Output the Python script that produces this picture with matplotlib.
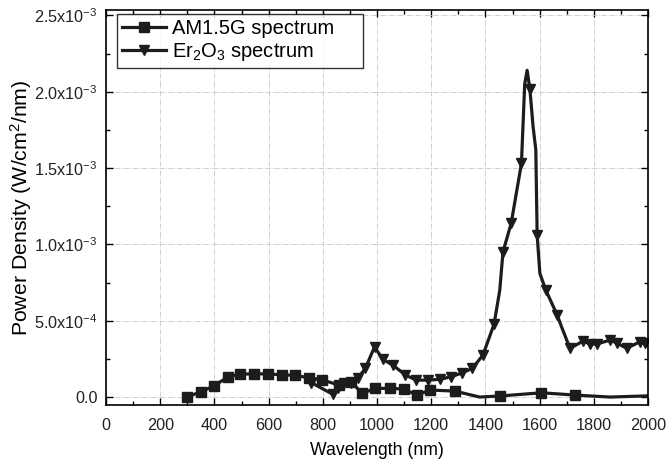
import numpy as np
import matplotlib
matplotlib.use('Agg')
import matplotlib.pyplot as plt
from matplotlib.ticker import MultipleLocator

plt.rcParams['font.family'] = ['Liberation Sans', 'DejaVu Sans']
plt.rcParams['mathtext.fontset'] = 'custom'
plt.rcParams['mathtext.rm'] = 'Liberation Sans'
plt.rcParams['mathtext.it'] = 'Liberation Sans'

# AM1.5G spectrum (W/cm^2/nm)
am_wl = [300, 350, 400, 450, 495, 547, 596, 648, 699, 748, 797, 859, 905, 945,
         994, 1049, 1098, 1147, 1197, 1287, 1379, 1453, 1607, 1730, 1860, 2000]
am_pd = [0.0, 0.35e-4, 0.74e-4, 1.33e-4, 1.49e-4, 1.53e-4, 1.51e-4, 1.46e-4,
         1.42e-4, 1.26e-4, 1.13e-4, 0.79e-4, 1.0e-4, 0.24e-4, 0.57e-4, 0.57e-4,
         0.52e-4, 0.13e-4, 0.46e-4, 0.39e-4, 0.0, 0.07e-4, 0.28e-4, 0.13e-4,
         0.0, 0.08e-4]
am_mark = [1] * 20 + [0, 1, 1, 1, 0, 0]

# Er2O3 emission spectrum
er_wl = [757, 837, 855, 880, 905, 929, 957, 991, 1021, 1058, 1105, 1145, 1188,
         1231, 1274, 1315, 1352, 1391, 1432, 1453, 1465, 1495, 1533, 1545,
         1554, 1564, 1576, 1586, 1591, 1601, 1623, 1665, 1681, 1712, 1761,
         1786, 1810, 1860, 1885, 1921, 1970, 1990, 2000]
er_pd = [0.95e-4, 0.18e-4, 0.57e-4, 0.9e-4, 0.9e-4, 1.22e-4, 1.88e-4, 3.29e-4,
         2.47e-4, 2.1e-4, 1.44e-4, 1.11e-4, 1.11e-4, 1.16e-4, 1.33e-4, 1.59e-4,
         1.88e-4, 2.75e-4, 4.78e-4, 7.0e-4, 9.52e-4, 11.37e-4, 15.3e-4,
         20.5e-4, 21.4e-4, 20.2e-4, 17.7e-4, 16.2e-4, 10.6e-4, 8.1e-4, 7.0e-4,
         5.37e-4, 4.6e-4, 3.19e-4, 3.67e-4, 3.47e-4, 3.47e-4, 3.73e-4,
         3.54e-4, 3.19e-4, 3.62e-4, 3.55e-4, 3.4e-4]
er_mark = [1] * 19 + [0, 1, 1, 1, 0, 0, 1, 0, 0, 1, 0, 1, 1, 0,
           1, 1, 1, 1, 1, 1, 1, 1, 1, 0]

y_ticks = [0.0, 5e-4, 1e-3, 1.5e-3, 2e-3, 2.5e-3]
y_labels = ['0.0', r'5.0x10$^{-4}$', r'1.0x10$^{-3}$', r'1.5x10$^{-3}$',
            r'2.0x10$^{-3}$', r'2.5x10$^{-3}$']

col = '#1c1c1c'

fig = plt.figure(figsize=(6.66, 4.61), dpi=100)
ax = fig.add_axes([106 / 666, 1 - 405 / 461, 542 / 666, 395 / 461])

am_idx = [i for i, m in enumerate(am_mark) if m]
er_idx = [i for i, m in enumerate(er_mark) if m]
ax.plot(am_wl, am_pd, color=col, lw=2.3, marker='s', ms=6.5,
        markevery=am_idx, label='AM1.5G spectrum')
ax.plot(er_wl, er_pd, color=col, lw=2.3, marker='v', ms=7.5,
        markevery=er_idx, label=r'Er$_2$O$_3$ spectrum')

ax.set_xlim(0, 2000)
ax.set_ylim(-5.2e-5, 2.535e-3)
ax.xaxis.set_major_locator(MultipleLocator(200))
ax.xaxis.set_minor_locator(MultipleLocator(100))
ax.set_yticks(y_ticks)
ax.set_yticklabels(y_labels)
ax.yaxis.set_minor_locator(MultipleLocator(2.5e-4))

ax.tick_params(which='both', direction='in', top=True, right=True,
               labelsize=11.7, width=1, labelcolor='#222222')
ax.tick_params(which='major', length=5)
ax.tick_params(which='minor', length=3)
ax.tick_params(axis='x', which='major', pad=9)
ax.tick_params(axis='y', which='major', pad=6)
ax.grid(True, which='major', color='#c8c8c8', ls='-.', lw=0.6)
for s in ax.spines.values():
    s.set_linewidth(1.2)

ax.set_xlabel('Wavelength (nm)', fontsize=12.7, labelpad=7)
ax.set_ylabel(r'Power Density (W/cm$^2$/nm)', fontsize=15.3, labelpad=0)

leg = ax.legend(loc='upper left', fontsize=14.5, frameon=True, fancybox=False,
                edgecolor='black', handlelength=2.2, borderpad=0.25,
                labelspacing=0.15, handletextpad=0.3, borderaxespad=0,
                mode='expand',
                bbox_to_anchor=(11 / 542, 1 - 61 / 395, 246 / 542, 57 / 395))
leg.get_frame().set_linewidth(1.0)

fig.savefig('out.png', dpi=100)
